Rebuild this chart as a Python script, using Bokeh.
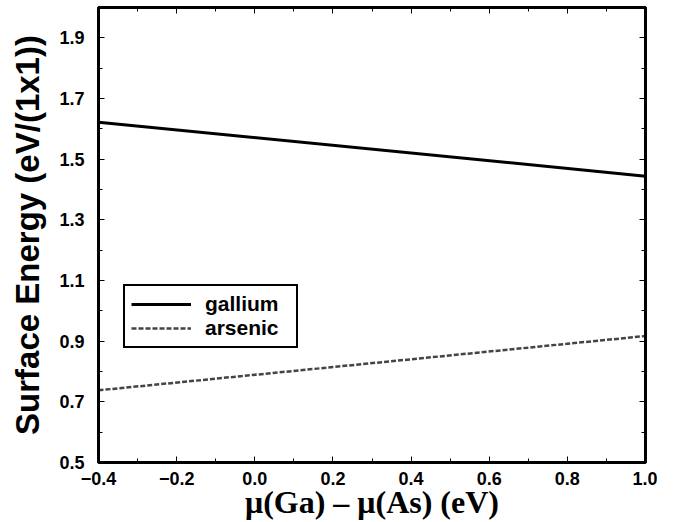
from bokeh.plotting import figure
from bokeh.models import (Range1d, FixedTicker, LinearAxis, Legend, LegendItem)
from bokeh.embed import file_html
from bokeh.resources import INLINE

# data
mu_diff = [-0.4, 1.0]
gallium = [1.622, 1.444]
arsenic = [0.738, 0.917]

x_ticks = [-0.4, -0.2, 0.0, 0.2, 0.4, 0.6, 0.8, 1.0]
x_tick_labels = ["\u22120.4", "\u22120.2", "0.0", "0.2", "0.4", "0.6", "0.8", "1.0"]
x_minor = [-0.3, -0.1, 0.1, 0.3, 0.5, 0.7, 0.9]
y_ticks = [0.5, 0.7, 0.9, 1.1, 1.3, 1.5, 1.7, 1.9]
y_tick_labels = ["0.5", "0.7", "0.9", "1.1", "1.3", "1.5", "1.7", "1.9"]
y_minor = [0.6, 0.8, 1.0, 1.2, 1.4, 1.6, 1.8]
x_title = "\u03bc(Ga) \u2013 \u03bc(As) (eV)"
y_title = "Surface Energy (eV/(1x1))"

p = figure(width=657, height=512, output_backend="svg", toolbar_location=None,
           x_range=Range1d(-0.4, 1.0), y_range=Range1d(0.5, 2.0),
           min_border_left=98, min_border_right=12, min_border_top=7,
           min_border_bottom=50)
p.frame_width = 547
p.frame_height = 455
p.grid.visible = False
p.outline_line_color = "black"
p.outline_line_width = 3
p.background_fill_color = "white"


def style_axis(ax, ticks, minor, tick_labels=None):
    ax.ticker = FixedTicker(ticks=ticks, minor_ticks=minor)
    ax.axis_line_color = "black"
    ax.axis_line_width = 3
    ax.major_tick_in = 6
    ax.major_tick_out = 0
    ax.minor_tick_in = 4
    ax.minor_tick_out = 0
    ax.major_tick_line_color = "black"
    ax.minor_tick_line_color = "black"
    ax.major_tick_line_width = 1
    ax.minor_tick_line_width = 1
    if tick_labels is not None:
        ax.major_label_overrides = {t: s for t, s in zip(ticks, tick_labels)}
        ax.major_label_text_font = "Liberation Sans"
        ax.major_label_text_font_style = "bold"
        ax.major_label_text_font_size = "18px"
        ax.major_label_text_color = "black"
    else:
        ax.major_label_text_font_size = "0px"
        ax.major_label_text_alpha = 0


xa = p.xaxis[0]
style_axis(xa, x_ticks, x_minor, x_tick_labels)
xa.major_label_standoff = 9
xa.axis_label = x_title
xa.axis_label_text_font = "Liberation Serif"
xa.axis_label_text_font_style = "bold"
xa.axis_label_text_font_size = "32px"
xa.axis_label_text_color = "black"
xa.axis_label_standoff = -4

ya = p.yaxis[0]
style_axis(ya, y_ticks, y_minor, y_tick_labels)
ya.major_label_standoff = 14
ya.axis_label = y_title
ya.axis_label_text_font = "Liberation Sans"
ya.axis_label_text_font_style = "bold"
ya.axis_label_text_font_size = "33px"
ya.axis_label_text_color = "black"
ya.axis_label_standoff = 10

top = LinearAxis()
style_axis(top, x_ticks, x_minor)
p.add_layout(top, "above")
right = LinearAxis()
style_axis(right, y_ticks, y_minor)
p.add_layout(right, "right")

r_ga = p.line(mu_diff, gallium, line_color="black", line_width=3)
r_as = p.line(mu_diff, arsenic, line_color="#444444", line_width=2.5,
              line_dash="5 2")

legend = Legend(items=[LegendItem(label="gallium", renderers=[r_ga]),
                       LegendItem(label="arsenic", renderers=[r_as])],
                location=(25, 114))
legend.border_line_color = "black"
legend.border_line_alpha = 1
legend.border_line_width = 2
legend.background_fill_color = "white"
legend.background_fill_alpha = 1
legend.label_text_font = "Liberation Sans"
legend.label_text_font_style = "bold"
legend.label_text_font_size = "21px"
legend.label_text_color = "black"
legend.glyph_width = 60
legend.glyph_height = 20
legend.label_height = 20
legend.label_width = 85
legend.label_standoff = 14
legend.padding = 6
legend.spacing = 0
legend.margin = 0
p.add_layout(legend, "center")

open("out.html", "w").write(file_html(p, INLINE))
